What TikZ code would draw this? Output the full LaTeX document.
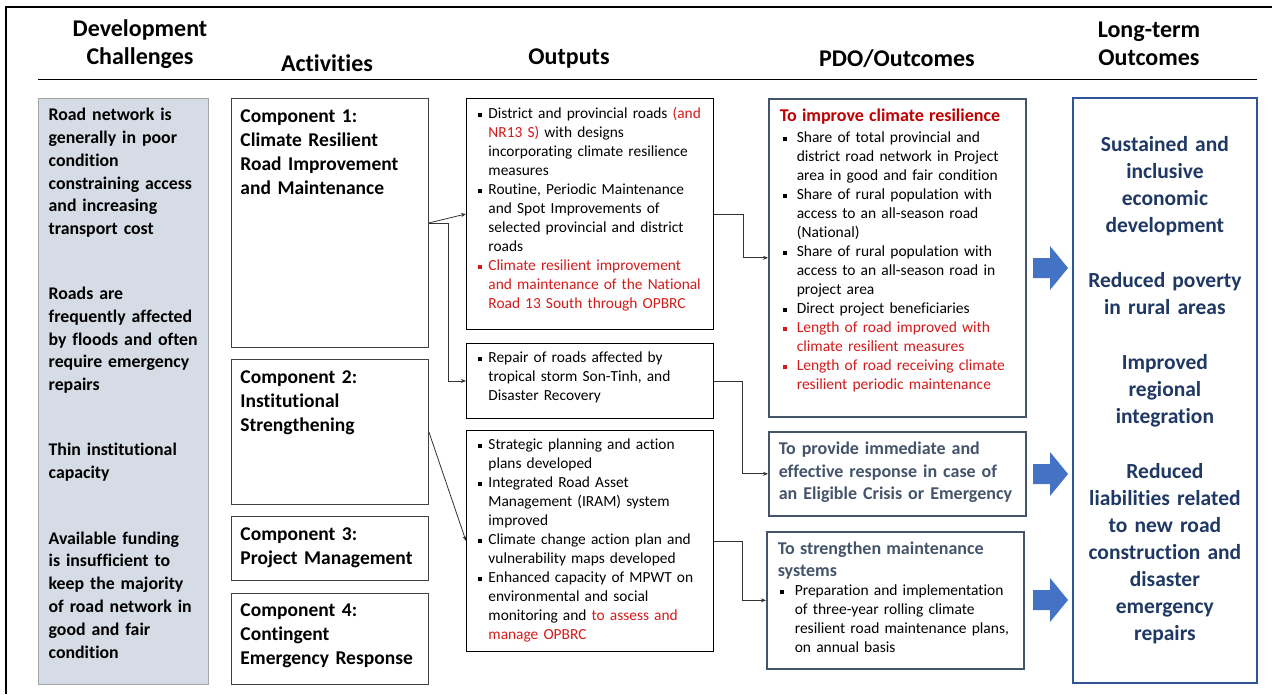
\documentclass[tikz,border=0pt]{standalone}
\usepackage{fontspec}
\setmainfont{Carlito}[Ligatures=NoCommon]
\usetikzlibrary{arrows.meta}

\definecolor{chfill}{HTML}{D6DCE5}
\definecolor{chline}{HTML}{A6A6A6}
\definecolor{pdoline}{HTML}{44546A}
\definecolor{ltline}{HTML}{2F5597}
\definecolor{lttext}{HTML}{1F3864}
\definecolor{blockblue}{HTML}{4472C4}
\definecolor{redtext}{HTML}{D41A1A}
\definecolor{redhead}{HTML}{C00000}

\newlength{\sqhang}
\setlength{\sqhang}{10pt}
\newlength{\sqpre}
\setlength{\sqpre}{0pt}
\newcommand{\sqitem}[2][black]{\lineskip=0pt\noindent\hspace*{\sqpre}{\color{#1}\strut\makebox[\sqhang][l]{\rule[1.5pt]{4pt}{4pt}}\parbox[t]{\dimexpr\linewidth-\sqhang-\sqpre\relax}{\raggedright #2\strut}}\par}

\tikzset{
  colhead/.style={font=\fontsize{24}{28}\selectfont\bfseries, align=center, text width=200pt},
  chbox/.style={draw=chline, line width=1.3pt, fill=chfill, anchor=north west, inner xsep=6pt, inner ysep=0pt, text width=158pt, align=left, font=\fontsize{17.8}{22.8}\selectfont\bfseries},
  compbox/.style={draw=black!75, line width=0.9pt, anchor=north west, inner xsep=9pt, inner ysep=0pt, text width=179pt, align=left, font=\fontsize{19.5}{24}\selectfont\bfseries},
  outbox/.style={draw=black, line width=0.9pt, anchor=north west, inner xsep=12pt, inner ysep=0pt, text width=223pt, align=left, font=\fontsize{15.4}{19}\selectfont},
  pdobox/.style={draw=pdoline, line width=1.6pt, anchor=north west, inner xsep=11pt, inner ysep=0pt, text width=235pt, align=left, font=\fontsize{15.5}{19}\selectfont},
  ltbox/.style={draw=ltline, line width=1.8pt, anchor=north west, inner xsep=6pt, text width=172pt, minimum height=585pt, align=center, text=lttext, font=\fontsize{21.5}{27}\selectfont\bfseries},
  conn/.style={-{Stealth[length=5pt,width=4pt]}, line width=0.8pt, black!80},
}

\begin{document}
\begin{tikzpicture}[x=1pt, y=-1pt]
\useasboundingbox (0,0) rectangle (1280,694);
\draw[line width=1.6pt] (6,694) -- (6,7) -- (1272,7);
\draw[line width=0.9pt] (38,79) -- (1257,79);

\node[colhead] (hch) at (140,44) {Development\\Challenges};
\node[colhead] (hact) at (327,63) {Activities};
\node[colhead] (hout) at (569,59) {Outputs};
\node[colhead] (hpdo) at (897,59) {PDO/Outcomes};
\node[colhead] (hlt) at (1149,44) {Long-term\\Outcomes};

\node[chbox, text height=22pt, text depth=564pt] (ch) at (38,98) {\leftskip=4pt Road network is\\ generally in poor\\ condition\\ constraining access\\ and increasing\\ transport cost\\[42pt]
Roads are\\ frequently affected\\ by floods and often\\ require emergency\\ repairs\\[42pt]
Thin institutional\\ capacity\\[43pt]
Available funding\\ is insufficient to\\ keep the majority\\ of road network in\\ good and fair\\ condition\par};

\node[compbox, text height=24pt, text depth=225pt] (c1) at (231,98) {Component 1:\\ Climate Resilient\\ Road Improvement\\ and Maintenance};
\node[compbox, text height=24pt, text depth=121pt] (c2) at (231,359) {Component 2:\\ Institutional\\ Strengthening};
\node[compbox, text height=24pt, text depth=40pt] (c3) at (231,516) {Component 3:\\ Project Management};
\node[compbox, text height=23pt, text depth=68pt] (c4) at (231,593) {Component 4:\\ Contingent\\ Emergency Response};

\node[outbox, text height=20pt, text depth=211pt] (o1) at (466,98) {%
\sqitem{District and provincial roads \textcolor{redtext}{(and}\\ \textcolor{redtext}{NR13 S)} with designs\\ incorporating climate resilience\\ measures}
\sqitem{Routine, Periodic Maintenance\\ and Spot Improvements of\\ selected provincial and district\\ roads}
\sqitem[redtext]{Climate resilient improvement\\ and maintenance of the National\\ Road 13 South through OPBRC}};
\node[outbox, text height=19pt, text depth=56pt] (o2) at (466,343) {%
\sqitem{Repair of roads affected by\\ tropical storm Son-Tinh, and\\ Disaster Recovery}};
\node[outbox, text height=19pt, text depth=202pt] (o3) at (466,430) {%
\sqitem{Strategic planning and action\\ plans developed}
\sqitem{Integrated Road Asset\\ Management (IRAM) system\\ improved}
\sqitem{Climate change action plan and\\ vulnerability maps developed}
\sqitem{Enhanced capacity of MPWT on\\ environmental and social\\ monitoring and \textcolor{redtext}{to assess and}\\ \textcolor{redtext}{manage OPBRC}}};

\node[pdobox, text height=23pt, text depth=295pt] (p1) at (768,98) {%
{\fontsize{18}{21}\selectfont\bfseries\color{redhead}To improve climate resilience\par}
\vspace{2pt}\setlength{\sqpre}{3pt}\setlength{\sqhang}{14pt}
\sqitem{Share of total provincial and\\ district road network in Project\\ area in good and fair condition}
\sqitem{Share of rural population with\\ access to an all-season road\\ (National)}
\sqitem{Share of rural population with\\ access to an all-season road in\\ project area}
\sqitem{Direct project beneficiaries}
\sqitem[redtext]{Length of road improved with\\ climate resilient measures}
\sqitem[redtext]{Length of road receiving climate\\ resilient periodic maintenance}};
\node[pdobox, inner xsep=10pt, text width=237pt, text height=23pt, text depth=61pt, text=pdoline, font=\fontsize{18}{22.5}\selectfont\bfseries] (p2) at (768,431) {To provide immediate and\\ effective response in case of\\ an Eligible Crisis or Emergency};
\node[pdobox, text height=23pt, text depth=114pt] (p3) at (766,531) {%
{\fontsize{18}{22}\selectfont\bfseries\color{pdoline}To strengthen maintenance\\ systems\par}
\setlength{\sqpre}{2pt}\setlength{\sqhang}{15pt}
\sqitem{Preparation and implementation\\ of three-year rolling climate\\ resilient road maintenance plans,\\ on annual basis}};

\node[ltbox] (lt) at (1072,97) {Sustained and\\ inclusive\\ economic\\ development\\[28pt]
Reduced poverty\\ in rural areas\\[28pt]
Improved\\ regional\\ integration\\[28pt]
Reduced\\ liabilities related\\ to new road\\ construction and\\ disaster\\ emergency\\ repairs};

\draw[conn] (c1.east) -- (o1.west);
\draw[conn] (c1.east) -- ++(19,0) |- (o2.west);
\draw[conn] (c2.east) -- (o3.west);
\draw[conn] (o1.east) -- ++(29,0) |- (p1.west);
\draw[conn] (o2.east) -- ++(28,0) |- (p2.west);
\draw[conn] (o3.east) -- ++(28,0) |- (p3.west);

\fill[blockblue] (1033,258) -- (1050,258) -- (1050,246) -- (1068,268) -- (1050,290) -- (1050,278) -- (1033,278) -- cycle;
\fill[blockblue] (1033,464) -- (1050,464) -- (1050,452) -- (1068,474) -- (1050,496) -- (1050,484) -- (1033,484) -- cycle;
\fill[blockblue] (1033,590) -- (1050,590) -- (1050,578) -- (1068,600) -- (1050,622) -- (1050,610) -- (1033,610) -- cycle;
\end{tikzpicture}
\end{document}
